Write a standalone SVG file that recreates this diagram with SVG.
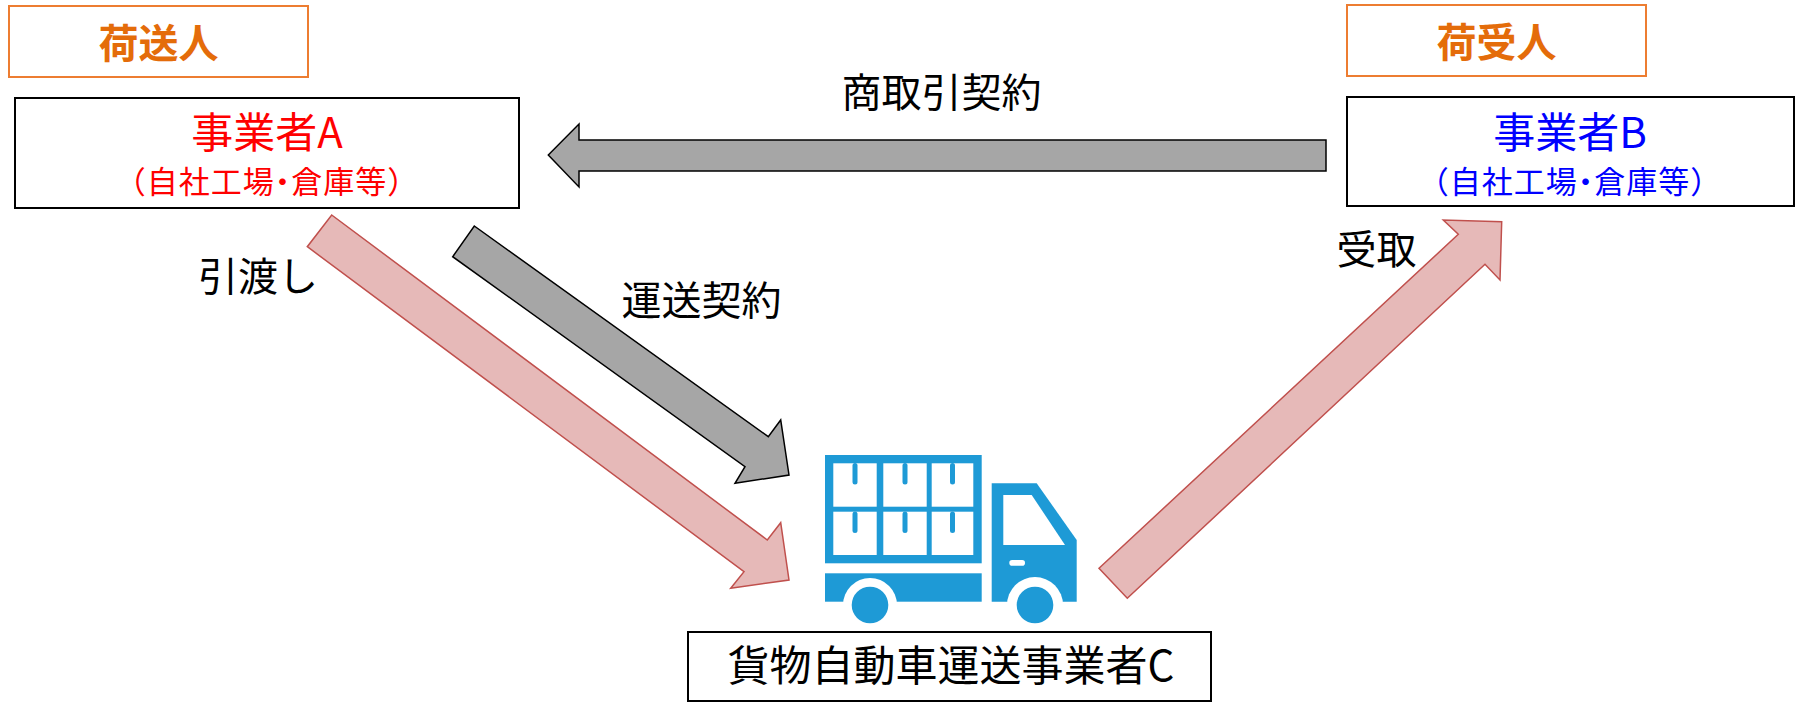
<svg xmlns="http://www.w3.org/2000/svg" width="1800" height="703" viewBox="0 0 1800 703">
  <style>
    .t { font-family: "Noto Sans CJK JP", "Noto Sans", sans-serif; }
    .role { font-size: 40px; font-weight: bold; fill: #E46C0A; text-anchor: middle; }
    .rolebox { fill: #FFFFFF; stroke: #ED7D31; stroke-width: 2; }
    .box { fill: #FFFFFF; stroke: #000000; stroke-width: 2; }
    .main { font-size: 42px; text-anchor: middle; }
    .sub { font-size: 31px; text-anchor: middle; letter-spacing: 1px; }
    .dot { font-feature-settings: "palt"; }
    .lbl { font-size: 40px; fill: #000000; }
    .gray { fill: #A6A6A6; stroke: #000000; stroke-width: 1.5; stroke-linejoin: miter; }
    .pink { fill: #E6B9B8; stroke: #C0504D; stroke-width: 1.5; stroke-linejoin: miter; }
    .blue { fill: #1E9AD6; }
    .white { fill: #FFFFFF; }
  </style>

  <g id="shipper-label">
    <rect class="rolebox" x="9" y="6" width="299" height="71"/>
    <text class="t role" x="158.5" y="57.8">荷送人</text>
  </g>

  <g id="receiver-label">
    <rect class="rolebox" x="1347" y="5" width="299" height="71"/>
    <text class="t role" x="1496.5" y="57.3">荷受人</text>
  </g>

  <g id="node-A">
    <rect class="box" x="15" y="98" width="504" height="110"/>
    <text class="t main" x="267" y="148.3" fill="#FF0000">事業者A</text>
    <text class="t sub" x="267" y="193.2" fill="#FF0000">（自社工場<tspan class="dot">・</tspan>倉庫等）</text>
  </g>

  <g id="node-B">
    <rect class="box" x="1347" y="97" width="447" height="109"/>
    <text class="t main" x="1570" y="148.3" fill="#0000FF">事業者B</text>
    <text class="t sub" x="1570" y="193.2" fill="#0000FF">（自社工場<tspan class="dot">・</tspan>倉庫等）</text>
  </g>

  <g id="node-C">
    <g id="truck">
      <rect class="blue" x="825" y="455" width="156.7" height="108.3"/>
      <rect class="white" x="833.3" y="463.3" width="43.4" height="43.4"/>
      <rect class="white" x="883.3" y="463.3" width="43.4" height="43.4"/>
      <rect class="white" x="931.7" y="463.3" width="41.6" height="43.4"/>
      <rect class="white" x="833.3" y="511.7" width="43.4" height="43.3"/>
      <rect class="white" x="883.3" y="511.7" width="43.4" height="43.3"/>
      <rect class="white" x="931.7" y="511.7" width="41.6" height="43.3"/>
      <rect class="blue" x="852.5" y="463" width="5" height="21.5" rx="2.5"/>
      <rect class="blue" x="902.5" y="463" width="5" height="21.5" rx="2.5"/>
      <rect class="blue" x="950" y="463" width="5" height="21.5" rx="2.5"/>
      <rect class="blue" x="852.5" y="511.5" width="5" height="21.5" rx="2.5"/>
      <rect class="blue" x="902.5" y="511.5" width="5" height="21.5" rx="2.5"/>
      <rect class="blue" x="950" y="511.5" width="5" height="21.5" rx="2.5"/>
      <rect class="blue" x="825" y="573.3" width="156.7" height="28.4"/>
      <polygon class="blue" points="991.7,483.3 1036.7,483.3 1076.7,540 1076.7,601.7 991.7,601.7"/>
      <polygon class="white" points="1003.3,495 1031.7,495 1065,545 1003.3,545"/>
      <rect class="white" x="1009.3" y="560" width="15.7" height="5.7" rx="2.8"/>
      <circle class="white" cx="870" cy="605" r="27"/>
      <circle class="white" cx="1035" cy="605" r="28"/>
      <circle class="blue" cx="870" cy="605" r="18.3"/>
      <circle class="blue" cx="1035" cy="605" r="18.3"/>
    </g>
    <rect class="box" x="688" y="632" width="523" height="69"/>
    <text class="t main" x="951" y="681.3" fill="#000000">貨物自動車運送事業者C</text>
  </g>

  <g id="connectors">
    <polygon class="gray" points="548.3,155 579,124 579,140 1326,140 1326,171 579,171 579,187"/>
    <text class="t lbl" x="941.5" y="107.3" text-anchor="middle">商取引契約</text>

    <polygon class="gray" points="474.3,226 768.3,436.7 780.7,420 789,475 735,483.3 745,466.7 452.7,256.7"/>
    <text class="t lbl" x="701.5" y="315.3" text-anchor="middle">運送契約</text>

    <polygon class="pink" points="331.7,215 767.3,540 780.7,522.7 789,580 730.7,588.3 744,571.7 307.3,246.7"/>
    <text class="t lbl" x="198" y="290.8">引渡し</text>

    <polygon class="pink" points="1099,568.3 1458.3,234.3 1443.3,220 1501.7,221.7 1500,280 1485,264.3 1127.3,598.3"/>
    <text class="t lbl" x="1376.5" y="263.8" text-anchor="middle">受取</text>
  </g>
</svg>
